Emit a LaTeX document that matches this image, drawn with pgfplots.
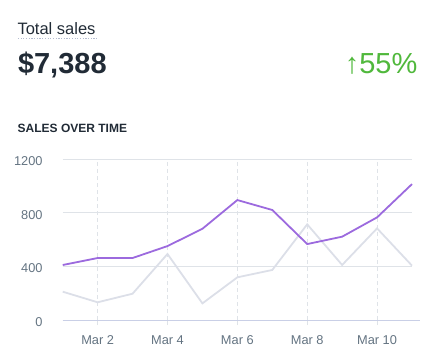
\documentclass[border=0pt]{standalone}
\usepackage{pgfplots}
\pgfplotsset{compat=1.18}
\usepackage{fontspec}
\setmainfont{Liberation Sans}
\definecolor{ink}{HTML}{212B36}
\definecolor{tickc}{HTML}{637381}
\definecolor{gridc}{HTML}{DFE3E8}
\definecolor{basec}{HTML}{C9CFE6}
\definecolor{purp}{HTML}{9C6ADE}
\definecolor{greyl}{HTML}{DCDFE8}
\definecolor{greenc}{HTML}{50B83C}
\definecolor{dotc}{HTML}{B4BCD0}
\pgfplotstableread{
day cur prev
1 410 211
2 462 132
3 462 196
4 551 492
5 680 124
6 894 318
7 820 373
8 566 713
9 621 410
10 765 683
11 1013 405
}\sales
\begin{document}
\begin{tikzpicture}[x=1pt,y=1pt]
\useasboundingbox (0,0) rectangle (427,356);
\node[anchor=base west, inner sep=0pt, text=ink, font=\fontsize{16.5}{20}\selectfont] at (17.3,321.7) {Total sales};
\draw[dotc, line width=1.1pt, dash pattern=on 1.2pt off 1.5pt] (17.8,317.6) -- (97,317.6);
\node[anchor=base west, inner sep=0pt, text=ink, font=\fontsize{29}{34}\selectfont\bfseries] at (17.8,282) {\$7,388};
\node[anchor=base east, inner sep=0pt, text=greenc, font=\fontsize{29}{34}\selectfont] at (417.5,282) {↑55\%};
\node[anchor=base west, inner sep=0pt, text=ink, font=\fontsize{12}{14}\selectfont\bfseries] at (17.5,223.3) {SALES OVER TIME};
\begin{axis}[
  at={(62.7pt,36pt)}, anchor=south west,
  scale only axis, width=349.3pt, height=161pt,
  xmin=1, xmax=11, ymin=0, ymax=1200,
  clip=false,
  axis line style={draw=none},
  xtick={2,4,6,8,10},
  xticklabels={Mar 2,Mar 4,Mar 6,Mar 8,Mar 10},
  ytick={0,400,800,1200},
  yticklabels={0,400,800,1200},
  xtick pos=bottom, ytick pos=left,
  tick align=outside,
  major tick length=5pt,
  xtick style={draw=gridc, line width=0.8pt},
  ytick style={draw=none},
  xmajorgrids, ymajorgrids,
  x grid style={draw=gridc, line width=0.8pt, dash pattern=on 4pt off 3pt},
  y grid style={draw=gridc, line width=1pt},
  tick label style={font=\fontsize{12.8}{15}\selectfont, text=tickc},
  yticklabel style={anchor=east, inner sep=0pt, xshift=-15pt, yshift=-2pt},
  xticklabel style={anchor=base, inner sep=0pt, yshift=-19pt},
]
\draw[basec, line width=1pt] (axis cs:1,0) -- (axis cs:11.23,0);
\addplot[greyl, line width=1.8pt, mark=none] table[x=day, y=prev] {\sales};
\addplot[purp, line width=1.8pt, mark=none] table[x=day, y=cur] {\sales};
\end{axis}
\end{tikzpicture}
\end{document}
